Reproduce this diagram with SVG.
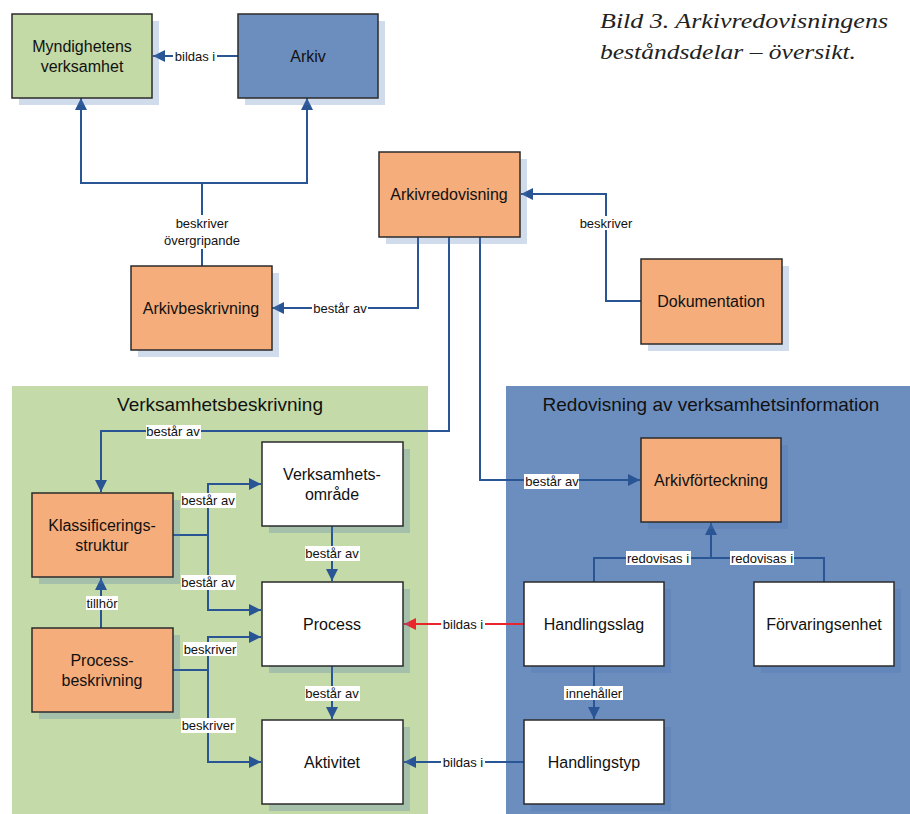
<svg xmlns="http://www.w3.org/2000/svg" width="910" height="814" viewBox="0 0 910 814">
<defs>
<marker id="ab" viewBox="0 0 12 12" markerWidth="12" markerHeight="12" markerUnits="userSpaceOnUse" refX="12" refY="6" orient="auto"><path d="M0,0 L12,6 L0,12 z" fill="#2a5595"/></marker>
<marker id="ar" viewBox="0 0 12 12" markerWidth="12" markerHeight="12" markerUnits="userSpaceOnUse" refX="12" refY="6" orient="auto"><path d="M0,0 L12,6 L0,12 z" fill="#e8262b"/></marker>
<style>
.sh{fill:#4a72b0;opacity:.26}
.bx{stroke:#2b2b2b;stroke-width:1.5}
.g{fill:#c3d9a6}.b{fill:#6c8ebf}.o{fill:#f5ad7b}.w{fill:#fff}
.t{font-family:"Liberation Sans",Arial,sans-serif;font-size:16px;fill:#111;text-anchor:middle}
.h{font-family:"Liberation Sans",Arial,sans-serif;font-size:19px;fill:#111;text-anchor:middle}
.l{font-family:"Liberation Sans",Arial,sans-serif;font-size:13px;fill:#111;text-anchor:middle}
.lb{fill:#fff}
.c path{fill:none;stroke:#2a5595;stroke-width:2}
.c path.r{stroke:#e8262b}
.cap{font-family:"Liberation Serif","Times New Roman",serif;font-style:italic;font-size:22px;fill:#222}
</style>
</defs>
<rect width="910" height="814" fill="#fff"/>
<g id="caption">
<text class="cap" x="600" y="28" textLength="288" lengthAdjust="spacingAndGlyphs">Bild 3. Arkivredovisningens</text>
<text class="cap" x="600" y="59" textLength="256" lengthAdjust="spacingAndGlyphs">beståndsdelar – översikt.</text>
</g>
<g id="region-verksamhetsbeskrivning">
<rect x="12" y="386" width="416" height="428" fill="#c4daa8"/>
<text class="h" x="220" y="411">Verksamhetsbeskrivning</text>
</g>
<g id="region-redovisning">
<rect x="506" y="386" width="404" height="428" fill="#6c8ebf"/>
<text class="h" x="711" y="411">Redovisning av verksamhetsinformation</text>
</g>
<g class="c" id="connectors">
<path d="M238,56 H153" marker-end="url(#ab)"/>
<path d="M202,266 V183 H81 V98" marker-end="url(#ab)"/>
<path d="M202,183 H307 V98" marker-end="url(#ab)"/>
<path d="M418,237 V308 H272" marker-end="url(#ab)"/>
<path d="M641,301 H606 V194 H521" marker-end="url(#ab)"/>
<path d="M449,237 V431 H101 V492" marker-end="url(#ab)"/>
<path d="M480,237 V480 H640" marker-end="url(#ab)"/>
<path d="M173,535 H208 V484 H261" marker-end="url(#ab)"/>
<path d="M208,535 V610 H261" marker-end="url(#ab)"/>
<path d="M173,670 H208 V637 H261" marker-end="url(#ab)"/>
<path d="M208,670 V762 H261" marker-end="url(#ab)"/>
<path d="M101,628 V578" marker-end="url(#ab)"/>
<path d="M332,526 V581" marker-end="url(#ab)"/>
<path d="M332,666 V719" marker-end="url(#ab)"/>
<path class="r" d="M524,624 H404" marker-end="url(#ar)"/>
<path d="M524,762 H404" marker-end="url(#ab)"/>
<path d="M594,582 V558 H824 V582"/>
<path d="M711,558 V523" marker-end="url(#ab)"/>
<path d="M594,666 V719" marker-end="url(#ab)"/>
</g>
<g id="labels">
<rect class="lb" x="173" y="49" width="44" height="14"/><text class="l" x="195" y="61">bildas i</text>
<rect class="lb" x="162" y="215" width="80" height="34"/>
<text class="l" x="202" y="228">beskriver</text>
<text class="l" x="202" y="245">övergripande</text>
<rect class="lb" x="312" y="301" width="56" height="14"/><text class="l" x="340" y="313">består av</text>
<rect class="lb" x="576" y="216" width="60" height="14"/><text class="l" x="606" y="228">beskriver</text>
<rect class="lb" x="146" y="425" width="55" height="14"/><text class="l" x="173" y="436">består av</text>
<rect class="lb" x="524" y="474" width="55" height="15"/><text class="l" x="552" y="486">består av</text>
<rect class="lb" x="181" y="493" width="55" height="15"/><text class="l" x="208" y="505">består av</text>
<rect class="lb" x="181" y="575" width="55" height="15"/><text class="l" x="208" y="587">består av</text>
<rect class="lb" x="183" y="642" width="54" height="14"/><text class="l" x="210" y="654">beskriver</text>
<rect class="lb" x="181" y="718" width="55" height="15"/><text class="l" x="208" y="730">beskriver</text>
<rect class="lb" x="86" y="596" width="32" height="14"/><text class="l" x="102" y="608">tillhör</text>
<rect class="lb" x="305" y="546" width="55" height="15"/><text class="l" x="332" y="558">består av</text>
<rect class="lb" x="305" y="686" width="55" height="15"/><text class="l" x="332" y="698">består av</text>
<rect class="lb" x="441" y="617" width="44" height="14"/><text class="l" x="463" y="629">bildas i</text>
<rect class="lb" x="441" y="755" width="44" height="14"/><text class="l" x="463" y="767">bildas i</text>
<rect class="lb" x="626" y="551" width="65" height="14"/><text class="l" x="658" y="563">redovisas i</text>
<rect class="lb" x="730" y="551" width="64" height="14"/><text class="l" x="762" y="563">redovisas i</text>
<rect class="lb" x="564" y="686" width="59" height="14"/><text class="l" x="594" y="698">innehåller</text>
</g>
<g id="myndighetens-verksamhet">
<rect class="sh" x="19" y="21" width="140" height="84"/>
<rect class="bx g" x="12" y="14" width="140" height="84"/>
<text class="t" x="82" y="52">Myndighetens</text><text class="t" x="82" y="72">verksamhet</text>
</g>
<g id="arkiv">
<rect class="sh" x="245" y="21" width="140" height="84"/>
<rect class="bx b" x="238" y="14" width="140" height="84"/>
<text class="t" x="308" y="62">Arkiv</text>
</g>
<g id="arkivredovisning">
<rect class="sh" x="386" y="159" width="141" height="85"/>
<rect class="bx o" x="379" y="152" width="141" height="85"/>
<text class="t" x="449" y="200">Arkivredovisning</text>
</g>
<g id="dokumentation">
<rect class="sh" x="648" y="266" width="141" height="85"/>
<rect class="bx o" x="641" y="259" width="141" height="85"/>
<text class="t" x="711" y="307">Dokumentation</text>
</g>
<g id="arkivbeskrivning">
<rect class="sh" x="138" y="273" width="141" height="84"/>
<rect class="bx o" x="131" y="266" width="141" height="84"/>
<text class="t" x="201" y="314">Arkivbeskrivning</text>
</g>
<g id="klassificeringsstruktur">
<rect class="sh" x="39" y="500" width="141" height="84"/>
<rect class="bx o" x="32" y="493" width="141" height="84"/>
<text class="t" x="102" y="531">Klassificerings-</text><text class="t" x="102" y="551">struktur</text>
</g>
<g id="processbeskrivning">
<rect class="sh" x="39" y="635" width="141" height="84"/>
<rect class="bx o" x="32" y="628" width="141" height="84"/>
<text class="t" x="102" y="666">Process-</text><text class="t" x="102" y="686">beskrivning</text>
</g>
<g id="verksamhetsomrade">
<rect class="sh" x="269" y="449" width="141" height="84"/>
<rect class="bx w" x="262" y="442" width="141" height="84"/>
<text class="t" x="332" y="480">Verksamhets-</text><text class="t" x="332" y="500">område</text>
</g>
<g id="process">
<rect class="sh" x="269" y="589" width="141" height="84"/>
<rect class="bx w" x="262" y="582" width="141" height="84"/>
<text class="t" x="332" y="630">Process</text>
</g>
<g id="aktivitet">
<rect class="sh" x="269" y="727" width="141" height="84"/>
<rect class="bx w" x="262" y="720" width="141" height="84"/>
<text class="t" x="332" y="768">Aktivitet</text>
</g>
<g id="arkivforteckning">
<rect class="sh" x="648" y="445" width="140" height="84"/>
<rect class="bx o" x="641" y="438" width="140" height="84"/>
<text class="t" x="711" y="486">Arkivförteckning</text>
</g>
<g id="handlingsslag">
<rect class="sh" x="531" y="589" width="140" height="84"/>
<rect class="bx w" x="524" y="582" width="140" height="84"/>
<text class="t" x="594" y="630">Handlingsslag</text>
</g>
<g id="forvaringsenhet">
<rect class="sh" x="761" y="589" width="140" height="84"/>
<rect class="bx w" x="754" y="582" width="140" height="84"/>
<text class="t" x="824" y="630">Förvaringsenhet</text>
</g>
<g id="handlingstyp">
<rect class="sh" x="531" y="727" width="140" height="84"/>
<rect class="bx w" x="524" y="720" width="140" height="84"/>
<text class="t" x="594" y="768">Handlingstyp</text>
</g>
</svg>
